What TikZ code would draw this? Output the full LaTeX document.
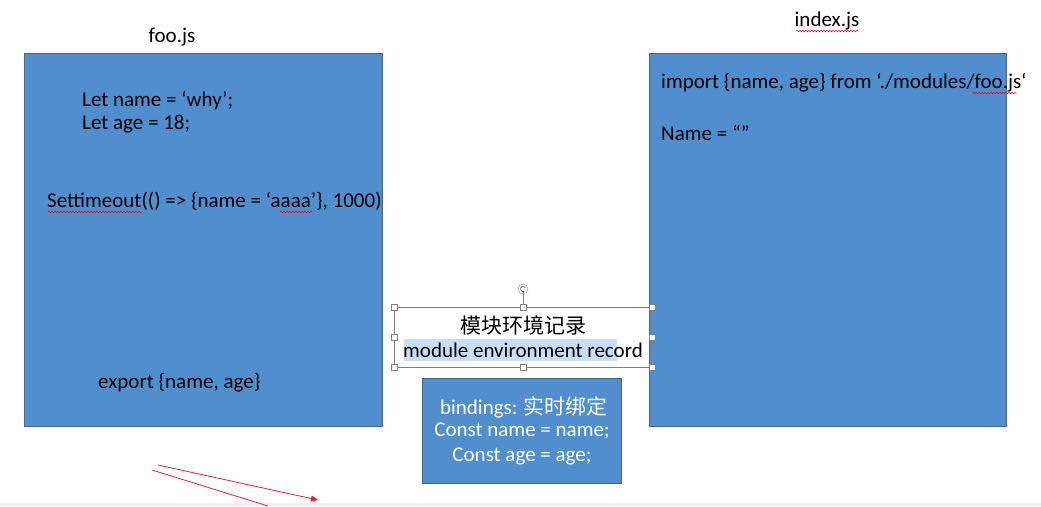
\documentclass[tikz,border=0pt]{standalone}
\usepackage{fontspec}
\setmainfont{Carlito}
\newfontfamily\cjk{Noto Sans CJK SC}
\usetikzlibrary{decorations.pathmorphing,arrows.meta}
\definecolor{boxblue}{RGB}{80,142,206}
\definecolor{boxedge}{RGB}{70,100,140}
\definecolor{hl}{RGB}{200,222,246}
\definecolor{arrowred}{RGB}{215,40,50}
\tikzset{
  x=1pt,y=-1pt,
  bluebox/.style={draw=boxedge,line width=0.6pt,fill=boxblue},
  code/.style={anchor=west,font=\fontsize{21}{24}\selectfont,inner sep=0pt},
  wcode/.style={font=\fontsize{21}{24}\selectfont,text=white,inner sep=0pt},
  title/.style={font=\fontsize{21}{24}\selectfont,inner sep=0pt},
  handle/.style={draw=gray,fill=white,minimum size=6pt,inner sep=0pt,line width=0.5pt},
  squig/.style={draw=red,line width=0.5pt,decorate,decoration={snake,amplitude=0.8pt,segment length=3pt}},
  redline/.style={draw=arrowred,line width=0.8pt}
}
\begin{document}
\begin{tikzpicture}
\useasboundingbox[fill=white] (0,0) rectangle (1041,506);
% bottom strip
\fill[gray!12] (0,503) rectangle (1041,506);
% titles
\node[title] (footitle) at (172,37) {foo.js};
\node[title] (indextitle) at (827,21) {index.js};
\draw[squig] (796,31) -- (858,31);
% boxes
\draw[bluebox] (24,53) rectangle (382,426);
\draw[bluebox] (649,53) rectangle (1006,426);
\node[bluebox,minimum width=199pt,minimum height=105pt,inner sep=0pt] (bind) at (521.5,430.5) {};
% foo.js texts
\node[code] (l1) at (82,101) {Let name = ‘why’;};
\node[code] (l2) at (82,124) {Let age = 18;};
\node[code] (l3) at (47,201) {Settimeout(() => \{name = ‘aaaa’\}, 1000)};
\draw[squig] (48,212) -- (142,212);
\draw[squig] (280,212) -- (313,212);
\node[code] (l4) at (98,383) {export \{name, age\}};
% index.js texts
\node[code] (i1) at (661,83) {import \{name, age\} from ‘./modules/foo.js‘};
\draw[squig] (972,93) -- (1017,93);
\node[code] (i2) at (661,133) {Name = “”};
% module environment record box
\fill[hl] (404,339) rectangle (617,361);
\draw[gray,line width=0.6pt] (394,307) rectangle (652,367);
\node[font=\cjk\fontsize{21}{24}\selectfont,inner sep=0pt] (mer1) at (523,325) {模块环境记录};
\node[font=\fontsize{21}{24}\selectfont,inner sep=0pt] (mer2) at (523,350) {module environment record};
\draw[gray,line width=0.5pt] (523,294) -- (523,307);
\node[draw=gray,fill=white,circle,minimum size=10pt,inner sep=0pt] (rot) at (523,289) {};
\draw[gray!70!black,line width=0.6pt,-{Stealth[length=2pt,width=2.5pt]}] ([shift={(20:2.6pt)}]rot.center) arc[start angle=20,end angle=300,radius=2.6pt];
\foreach \hx/\hy [count=\i] in {394/307,523/307,652/307,394/337,652/337,394/367,523/367,652/367}
  \node[handle] (h\i) at (\hx,\hy) {};
% bindings texts
\node[wcode] (b1) at (524,407) {bindings: {\cjk 实时绑定}};
\node[wcode] (b2) at (522,431) {Const name = name;};
\node[wcode] (b3) at (522,456) {Const age = age;};
% red arrows
\coordinate (ra1) at (158,465);
\coordinate (ra2) at (318,500);
\coordinate (rb1) at (152,470);
\coordinate (rb2) at (268,506);
\draw[redline,-{Triangle[length=7pt,width=6pt]}] (ra1) -- (ra2);
\draw[redline] (rb1) -- (rb2);
\end{tikzpicture}
\end{document}
